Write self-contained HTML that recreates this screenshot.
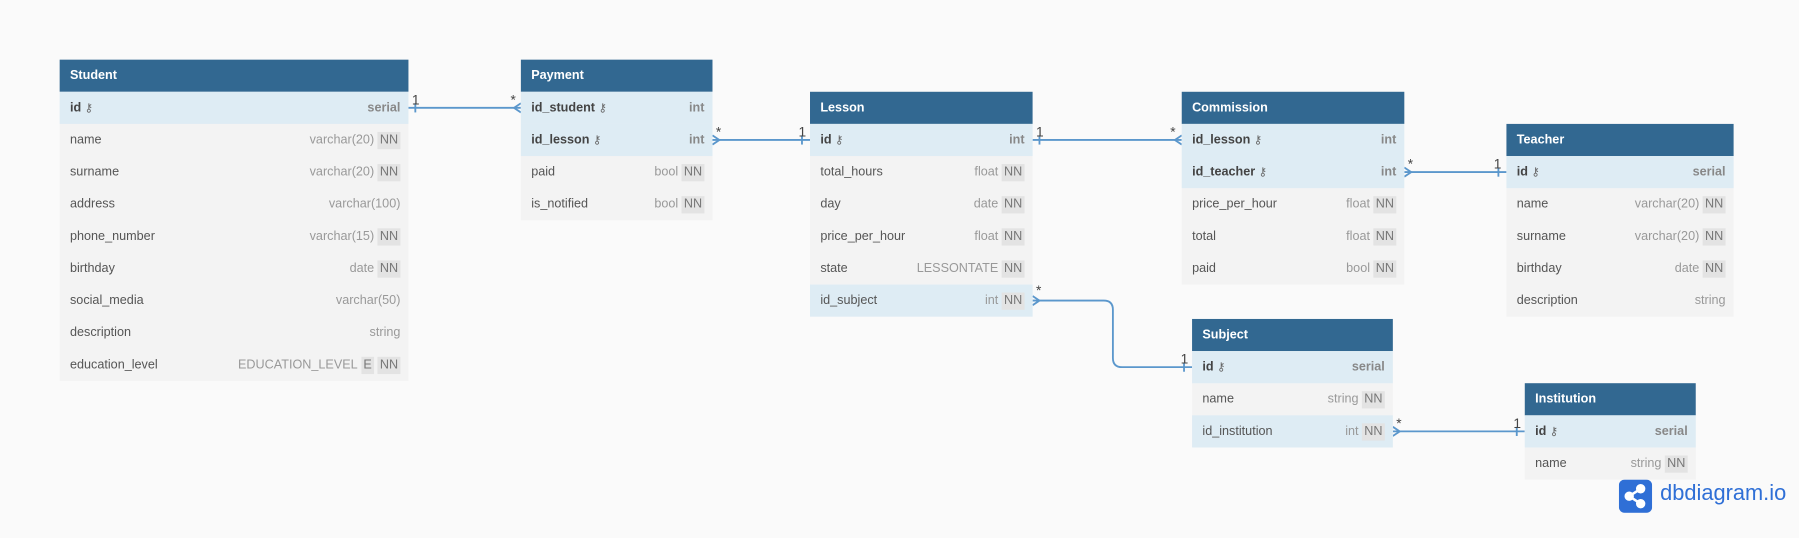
<!DOCTYPE html>
<html><head><meta charset="utf-8"><style>
html,body{margin:0;padding:0;background:#fafafa;width:1799px;height:538px;overflow:hidden}
#w{position:absolute;left:0;top:0;width:1568px;height:469px;transform:scale(1.14732);transform-origin:0 0;font-family:"Liberation Sans",sans-serif}
.t{position:absolute;background:#f3f3f3}
.h{height:28px;background:#326891;color:#fff;font-weight:bold;line-height:28px;padding-left:9px;font-size:11px}
.r{height:28px;line-height:28px;padding:0 7px 0 9px;display:flex;justify-content:space-between;font-size:11px;color:#555;white-space:nowrap}
.k{background:#deecf4}
.r b{color:#444}
.ty{color:#999}
.nn{display:inline-block;background:#e3e3e3;color:#777;line-height:15px;padding:0 2px;margin-left:3px}
.key{font-size:10px;color:#666;margin-left:3px;font-weight:normal}
.k .ty.b{font-weight:bold;color:#888}
.lb{position:absolute;font-size:12px;color:#444;font-family:"Liberation Sans",sans-serif}
</style></head><body><div id="w">
<svg width="1568" height="469" style="position:absolute;left:0;top:0" fill="none" stroke="#5b97cc" stroke-width="1.6">
<path d="M356 94H454"/><path d="M362 90v8"/><path d="M448 94L454 90M448 94L454 98"/>
<path d="M621 122H706"/><path d="M621 118L627 122L621 126"/><path d="M699 118v8"/>
<path d="M900 122H1030"/><path d="M906 118v8"/><path d="M1024 122L1030 118M1024 122L1030 126"/>
<path d="M1224 150H1313"/><path d="M1224 146L1230 150L1224 154"/><path d="M1306 146v8"/>
<path d="M900 262H962Q970 262 970 270V312Q970 320 978 320H1039"/><path d="M900 258L906 262L900 266"/><path d="M1032 316v8"/>
<path d="M1214 376H1329"/><path d="M1214 372L1220 376L1214 380"/><path d="M1322 372v8"/>
</svg>
<div class="lb" style="left:359px;top:80px">1</div><div class="lb" style="left:445px;top:80px">*</div>
<div class="lb" style="left:624px;top:108px">*</div><div class="lb" style="left:696px;top:108px">1</div>
<div class="lb" style="left:903px;top:108px">1</div><div class="lb" style="left:1020px;top:108px">*</div>
<div class="lb" style="left:1227px;top:136px">*</div><div class="lb" style="left:1302px;top:136px">1</div>
<div class="lb" style="left:903px;top:246px">*</div><div class="lb" style="left:1029px;top:306px">1</div>
<div class="lb" style="left:1217px;top:362px">*</div><div class="lb" style="left:1319px;top:362px">1</div>

<div class="t" style="left:52px;top:52px;width:304px">
<div class="h">Student</div>
<div class="r k"><b>id<span class="key">⚷</span></b><span class="ty b">serial</span></div>
<div class="r"><span>name</span><span><span class="ty">varchar(20)</span><span class="nn">NN</span></span></div>
<div class="r"><span>surname</span><span><span class="ty">varchar(20)</span><span class="nn">NN</span></span></div>
<div class="r"><span>address</span><span class="ty">varchar(100)</span></div>
<div class="r"><span>phone_number</span><span><span class="ty">varchar(15)</span><span class="nn">NN</span></span></div>
<div class="r"><span>birthday</span><span><span class="ty">date</span><span class="nn">NN</span></span></div>
<div class="r"><span>social_media</span><span class="ty">varchar(50)</span></div>
<div class="r"><span>description</span><span class="ty">string</span></div>
<div class="r"><span>education_level</span><span><span class="ty">EDUCATION_LEVEL</span><span class="nn">E</span><span class="nn">NN</span></span></div>
</div>

<div class="t" style="left:454px;top:52px;width:167px">
<div class="h">Payment</div>
<div class="r k"><b>id_student<span class="key">⚷</span></b><span class="ty b">int</span></div>
<div class="r k"><b>id_lesson<span class="key">⚷</span></b><span class="ty b">int</span></div>
<div class="r"><span>paid</span><span><span class="ty">bool</span><span class="nn">NN</span></span></div>
<div class="r"><span>is_notified</span><span><span class="ty">bool</span><span class="nn">NN</span></span></div>
</div>

<div class="t" style="left:706px;top:80px;width:194px">
<div class="h">Lesson</div>
<div class="r k"><b>id<span class="key">⚷</span></b><span class="ty b">int</span></div>
<div class="r"><span>total_hours</span><span><span class="ty">float</span><span class="nn">NN</span></span></div>
<div class="r"><span>day</span><span><span class="ty">date</span><span class="nn">NN</span></span></div>
<div class="r"><span>price_per_hour</span><span><span class="ty">float</span><span class="nn">NN</span></span></div>
<div class="r"><span>state</span><span><span class="ty">LESSONTATE</span><span class="nn">NN</span></span></div>
<div class="r k"><span>id_subject</span><span><span class="ty">int</span><span class="nn">NN</span></span></div>
</div>

<div class="t" style="left:1030px;top:80px;width:194px">
<div class="h">Commission</div>
<div class="r k"><b>id_lesson<span class="key">⚷</span></b><span class="ty b">int</span></div>
<div class="r k"><b>id_teacher<span class="key">⚷</span></b><span class="ty b">int</span></div>
<div class="r"><span>price_per_hour</span><span><span class="ty">float</span><span class="nn">NN</span></span></div>
<div class="r"><span>total</span><span><span class="ty">float</span><span class="nn">NN</span></span></div>
<div class="r"><span>paid</span><span><span class="ty">bool</span><span class="nn">NN</span></span></div>
</div>

<div class="t" style="left:1313px;top:108px;width:198px">
<div class="h">Teacher</div>
<div class="r k"><b>id<span class="key">⚷</span></b><span class="ty b">serial</span></div>
<div class="r"><span>name</span><span><span class="ty">varchar(20)</span><span class="nn">NN</span></span></div>
<div class="r"><span>surname</span><span><span class="ty">varchar(20)</span><span class="nn">NN</span></span></div>
<div class="r"><span>birthday</span><span><span class="ty">date</span><span class="nn">NN</span></span></div>
<div class="r"><span>description</span><span class="ty">string</span></div>
</div>

<div class="t" style="left:1039px;top:278px;width:175px">
<div class="h">Subject</div>
<div class="r k"><b>id<span class="key">⚷</span></b><span class="ty b">serial</span></div>
<div class="r"><span>name</span><span><span class="ty">string</span><span class="nn">NN</span></span></div>
<div class="r k"><span>id_institution</span><span><span class="ty">int</span><span class="nn">NN</span></span></div>
</div>

<div class="t" style="left:1329px;top:334px;width:149px">
<div class="h">Institution</div>
<div class="r k"><b>id<span class="key">⚷</span></b><span class="ty b">serial</span></div>
<div class="r"><span>name</span><span><span class="ty">string</span><span class="nn">NN</span></span></div>
</div>

<svg style="position:absolute;left:1411px;top:418px" width="29" height="29" viewBox="0 0 29 29">
<rect width="29" height="29" rx="5" fill="#2f6fd6"/>
<g stroke="#fff" stroke-width="2.2" fill="#fff"><path d="M9 14.5L19 8M9 14.5L19 21"/><circle cx="9" cy="14.5" r="3"/><circle cx="19" cy="8" r="3"/><circle cx="19" cy="21" r="3"/></g>
</svg>
<div style="position:absolute;left:1447px;top:420px;font-size:19px;color:#2f6fd6;font-family:'Liberation Sans',sans-serif">dbdiagram.io</div>
</div></body></html>
